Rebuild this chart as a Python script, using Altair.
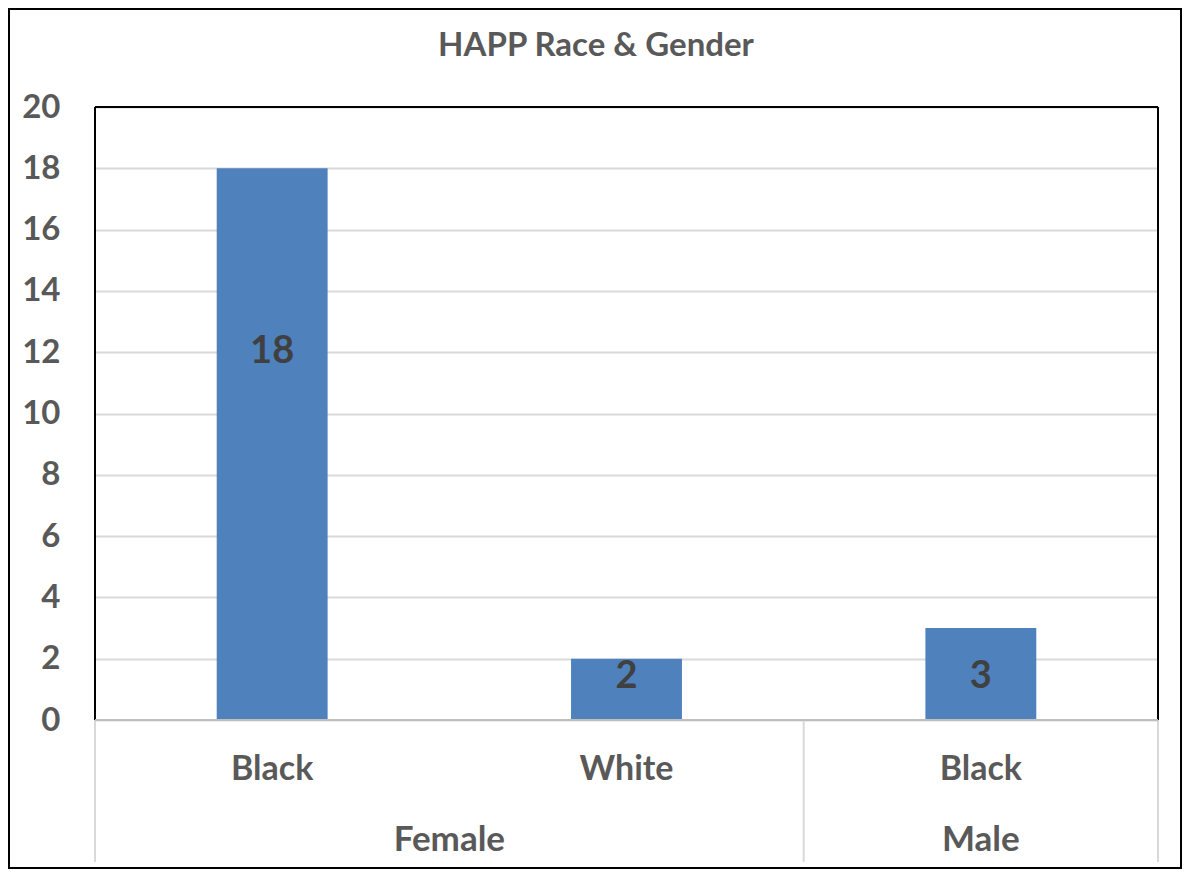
import altair as alt
import pandas as pd

races = ["Black", "White", "Black"]
genders = ["Female", "Female", "Male"]
counts = [18, 2, 3]
y_ticks = [0, 2, 4, 6, 8, 10, 12, 14, 16, 18, 20]
title_text = "HAPP Race & Gender"

W, H = 1063, 613
FONT = "Lato"
GRAY = "#595959"

df = pd.DataFrame({"race": races, "gender": genders, "count": counts})
df["idx"] = range(len(df))
half = 0.313 / 2
df["x0"] = df["idx"] - half
df["x1"] = df["idx"] + half

grp = df.groupby("gender", sort=False)["idx"].agg(["min", "max"]).reset_index()
grp["center"] = (grp["min"] + grp["max"]) / 2
sep_positions = sorted(set(list(grp["min"] - 0.5) + list(grp["max"] + 0.5)))
sep_df = pd.DataFrame({"pos": sep_positions})

xscale = alt.Scale(domain=[-0.5, len(df) - 0.5], nice=False, zero=False)
yscale = alt.Scale(domain=[0, 20], nice=False)

base = alt.Chart(df)

bars = base.mark_bar(color="#4f81bd").encode(
    x=alt.X("x0:Q", scale=xscale, axis=None),
    x2="x1:Q",
    y=alt.Y("count:Q", scale=yscale,
            axis=alt.Axis(values=y_ticks, title=None, ticks=False, domain=False,
                          grid=True, gridColor="#d9d9d9", gridWidth=2,
                          labelFont=FONT, labelFontSize=33, labelFontWeight="bold",
                          labelColor=GRAY, labelPadding=35)),
    y2=alt.datum(0),
)

labels = base.transform_calculate(
    ly="datum.count > 10 ? datum.count * 2 / 3 : 1.4"
).mark_text(font=FONT, fontSize=38, fontWeight="bold", color="#404040",
            baseline="middle", align="center").encode(
    x=alt.X("idx:Q", scale=xscale),
    y=alt.Y("ly:Q", scale=yscale),
    text="count:Q",
)

race_labels = base.mark_text(font=FONT, fontSize=34, fontWeight="bold", color=GRAY,
                             baseline="middle", align="center").encode(
    x=alt.X("idx:Q", scale=xscale),
    y=alt.value(H + 50),
    text="race:N",
)

gender_labels = alt.Chart(grp).mark_text(font=FONT, fontSize=35, fontWeight="bold", color=GRAY,
                                          baseline="middle", align="center").encode(
    x=alt.X("center:Q", scale=xscale),
    y=alt.value(H + 120),
    text="gender:N",
)

seps = alt.Chart(sep_df).mark_rule(color="#d9d9d9", strokeWidth=2).encode(
    x=alt.X("pos:Q", scale=xscale),
    y=alt.value(H),
    y2=alt.value(H + 142),
)

one = alt.Data(values=[{"a": 1}])
border_left = alt.Chart(one).mark_rule(color="black", strokeWidth=2).encode(
    x=alt.value(0), y=alt.value(0), y2=alt.value(H))
border_right = alt.Chart(one).mark_rule(color="black", strokeWidth=2).encode(
    x=alt.value(W), y=alt.value(0), y2=alt.value(H))
border_top = alt.Chart(one).mark_rule(color="black", strokeWidth=2).encode(
    x=alt.value(0), x2=alt.value(W), y=alt.value(0))
axis_line = alt.Chart(one).mark_rule(color="#bfbfbf", strokeWidth=2).encode(
    x=alt.value(0), x2=alt.value(W), y=alt.value(H))

outer = alt.Chart(one).mark_rect(filled=False, stroke="black", strokeWidth=2).encode(
    x=alt.value(-86), x2=alt.value(W + 23), y=alt.value(-98), y2=alt.value(H + 148))

title = alt.Chart(one).mark_text(font=FONT, fontSize=33, fontWeight="bold", color=GRAY,
                                 baseline="middle", align="center").encode(
    x=alt.value(501), y=alt.value(-61), text=alt.value(title_text))

chart = alt.layer(
    bars, labels, race_labels, gender_labels, seps,
    border_left, border_right, border_top, axis_line, outer, title
).properties(
    width=W, height=H,
    autosize=alt.AutoSizeParams(type="none"),
    padding={"left": 87, "top": 99, "right": 24, "bottom": 149},
).configure_view(stroke=None).configure(background="white")

chart.save("out.html", embed_options={"renderer": "svg", "actions": False})
